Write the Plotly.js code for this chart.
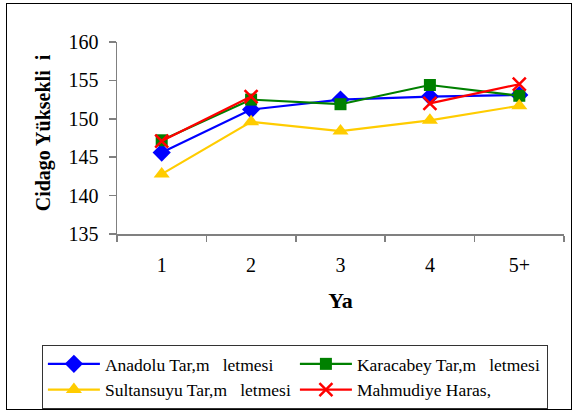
<!DOCTYPE html>
<html>
<head>
<meta charset="utf-8">
<script src="https://cdn.plot.ly/plotly-3.0.1.min.js"></script>
<style>
html,body{margin:0;padding:0;background:#fff;}
#wrap{position:relative;width:577px;height:414px;}
#chart{width:577px;height:414px;}
#frame{position:absolute;left:6px;top:3px;width:564px;height:405px;border:1px solid #000;pointer-events:none;}
</style>
</head>
<body>
<div id="wrap"><div id="chart"></div><div id="frame"></div></div>
<script>
var categories = ["1", "2", "3", "4", "5+"];
var anadolu = [145.6, 151.2, 152.5, 152.9, 153.1];
var karacabey = [147.2, 152.5, 151.9, 154.4, 153.0];
var sultansuyu = [142.8, 149.6, 148.4, 149.8, 151.7];
var mahmudiye = [147.1, 152.9, null, 152.0, 154.5];
var seriesNames = ["Anadolu Tar,m\u00a0\u00a0\u00a0letmesi", "Karacabey Tar,m\u00a0\u00a0\u00a0letmesi", "Sultansuyu Tar,m\u00a0\u00a0\u00a0letmesi", "Mahmudiye Haras,"];
var yTicks = [135, 140, 145, 150, 155, 160];

var font = "'Liberation Serif', 'Times New Roman', serif";
function tr(y, name, color, symbol, size, mline) {
  return {
    x: categories, y: y, name: name, type: "scatter", mode: "lines+markers",
    connectgaps: false,
    line: {color: color, width: 2.2},
    marker: {color: color, symbol: symbol, size: size, line: {color: color, width: mline}}
  };
}
var data = [
  tr(anadolu, seriesNames[0], "#0000FF", "diamond", 14, 0),
  tr(karacabey, seriesNames[1], "#008000", "square", 12, 0),
  tr(sultansuyu, seriesNames[2], "#FFCC00", "triangle-up", 14, 0),
  tr(mahmudiye, seriesNames[3], "#FF0000", "x-thin", 13, 2.5)
];
var layout = {
  width: 577, height: 414,
  margin: {l: 117, r: 13, t: 42, b: 180, autoexpand: false},
  paper_bgcolor: "#fff", plot_bgcolor: "#fff",
  font: {family: font, color: "#000", size: 20},
  showlegend: true,
  xaxis: {
    type: "category", range: [-0.5, 4.5], tickson: "boundaries",
    ticks: "outside", ticklen: 6, tickcolor: "#808080", tickwidth: 1.5,
    showline: true, linecolor: "#808080", linewidth: 1.5,
    showgrid: false, zeroline: false, automargin: false,
    ticklabelstandoff: 12,
    tickfont: {family: font, size: 20},
    title: {text: "<b>Ya</b>", font: {family: font, size: 22}, standoff: 18}
  },
  yaxis: {
    range: [135, 160], tickvals: yTicks,
    ticks: "outside", ticklen: 7, tickcolor: "#808080", tickwidth: 1.5,
    showline: true, linecolor: "#808080", linewidth: 1.5,
    showgrid: false, zeroline: false, automargin: false,
    ticklabelstandoff: 6,
    tickfont: {family: font, size: 20},
    title: {text: "<b>\u00a0\u00a0Cidago Yüksekli\u00a0\u00a0i</b>", font: {family: font, size: 20}, standoff: 12}
  },
  legend: {
    orientation: "h", x: -0.168, xanchor: "left", y: -0.578, yanchor: "top",
    bordercolor: "#333", borderwidth: 1, bgcolor: "#fff",
    entrywidth: 185, entrywidthmode: "pixels",
    font: {family: font, size: 17.5},
    tracegroupgap: 0, itemwidth: 52
  }
};
Plotly.newPlot("chart", data, layout, {displayModeBar: false, staticPlot: true});
</script>
</body>
</html>
